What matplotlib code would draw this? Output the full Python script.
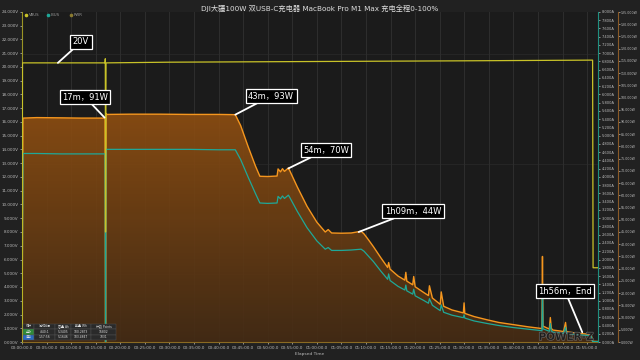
import matplotlib
matplotlib.use("Agg")
import matplotlib.pyplot as plt
import numpy as np
from matplotlib.ticker import FuncFormatter, MultipleLocator
from matplotlib.patches import Rectangle
import matplotlib.patheffects as pe

plt.rcParams['font.family'] = ['DejaVu Sans', 'Noto Sans CJK SC']

# ---------------- data ----------------
title = "DJI大疆100W 双USB-C充电器 MacBook Pro M1 Max 充电全程0-100%"

time_min = [0, 0.2, 3, 8, 12, 16.9, 17.0, 17.1, 17.2, 22, 28, 34, 40, 43.4,
            44.5, 46, 47.5, 48.4, 50, 51.9, 52.1, 52.6, 53.0, 53.4, 53.8, 54.2, 54.5,
            56, 58, 60, 61.7, 62.3, 63, 65, 67, 69, 69.6, 70.5, 71.5, 73,
            74.4, 74.6, 74.9, 76.5, 77.9, 78.1, 78.3, 79.5, 79.7, 80, 81.7,
            82.7, 82.9, 83.5, 85.1, 85.3, 85.8, 87.5, 89.8, 89.95, 90.1, 92,
            94.6, 97, 100, 103, 105.4, 105.8, 105.9, 106.0, 107.3, 107.5, 107.7,
            108, 110.2, 110.6, 110.8, 112.9, 115.8, 116.1, 117.2]
power_w = [0, 91.6, 91.8, 91.7, 91.6, 91.6, 0, 93.5, 93.1, 93.2, 93.2, 93.1, 93.1, 93.0,
           88.5, 80, 72, 67.8, 67.7, 67.9, 70.8, 69.6, 70.9, 69.8, 70.5, 71.2, 70.0,
           63.5, 55.5, 49, 45.0, 46.0, 44.6, 44.5, 44.6, 45.3, 44.2, 41.8, 39.0, 34.5,
           30.5, 32.5, 29.8, 27.0, 25.3, 28.5, 24.9, 23.4, 26.8, 22.6, 20.3,
           19.0, 23.0, 18.0, 15.4, 20.5, 14.6, 13.1, 11.9, 16.0, 11.7, 10.4,
           9.1, 8.0, 7.1, 6.2, 5.6, 5.5, 35.0, 6.5, 5.3, 10.0, 5.6,
           4.9, 4.3, 8.0, 4.2, 3.6, 3.1, 0.3, 0.2]
current_a = [0, 4.57, 4.57, 4.56, 4.56, 4.56, 0, 4.68, 4.67, 4.67, 4.67, 4.67, 4.66, 4.66,
             4.42, 4.0, 3.6, 3.37, 3.36, 3.37, 3.53, 3.47, 3.54, 3.48, 3.52, 3.56, 3.50,
             3.17, 2.77, 2.45, 2.25, 2.29, 2.22, 2.22, 2.23, 2.25, 2.20, 2.08, 1.95, 1.72,
             1.52, 1.65, 1.49, 1.35, 1.26, 1.38, 1.24, 1.16, 1.28, 1.12, 1.01,
             0.94, 1.05, 0.89, 0.76, 0.90, 0.72, 0.65, 0.59, 0.66, 0.58, 0.51,
             0.45, 0.40, 0.35, 0.31, 0.28, 0.27, 1.40, 0.32, 0.26, 0.45, 0.27,
             0.24, 0.21, 0.36, 0.21, 0.18, 0.15, 0.01, 0.01]

volt_time = [0, 0.1, 5, 16.9, 16.95, 17.0, 17.1, 30, 60, 90, 116.1, 116.2, 117.2]
volt_v = [0, 20.3, 20.3, 20.3, 20.6, 8.0, 20.3, 20.35, 20.4, 20.45, 20.5, 5.4, 5.4]

stats_header = ["统计", "测试时间", "容量 Ah", "能量 Wh", "计数 Points"]
stats_all = ["全部", "4:40:1", "5.3405", "100.2873", "16802"]
stats_sel = ["选中", "1:57:56", "5.1646", "103.4847", "7031"]

annotations = [
    ("20V", "V", 7.3, 20.3, 81, 318),
    ("17m，91W", "P", 16.8, 91.8, 85, 263),
    ("43m，93W", "P", 43.4, 93.0, 271, 264),
    ("54m，70W", "P", 54.2, 71.0, 326, 210),
    ("1h09m，44W", "P", 68.5, 45.0, 413, 149),
    ("1h56m，End", "P", 114.0, 4.0, 565, 69),
]

assert len(time_min) == len(power_w) == len(current_a)

# ---------------- figure ----------------
W, H = 640, 360
fig = plt.figure(figsize=(6.4, 3.6), dpi=100, facecolor='#212121')
rect = [22 / W, 1 - 342 / H, (598 - 22) / W, (342 - 12) / H]
ax3 = fig.add_axes(rect)          # power (background)
ax2 = ax3.twinx()                 # current
ax = ax3.twinx()                  # voltage (on top)

ax3.set_zorder(1); ax2.set_zorder(2); ax.set_zorder(3)
ax3.set_facecolor('#1b1b1b')
ax2.patch.set_visible(False); ax.patch.set_visible(False)

XMAX = 117.2
for a in (ax, ax2, ax3):
    a.set_xlim(0, XMAX)
ax.set_ylim(0, 24)
ax2.set_ylim(0, 8)
ax3.set_ylim(0, 135)

c_pwr = '#f5961e'
c_cur = '#1fa898'
c_volt = '#c8c228'

# gradient fill under power
poly = ax3.fill_between(time_min, power_w, 0, color='none', lw=0)
grad = np.linspace(0, 1, 256)
top = np.array([0.56, 0.31, 0.07]); bot = np.array([0.27, 0.17, 0.08])
cols = np.zeros((256, 1, 4))
cols[:, 0, :3] = bot + (top - bot) * grad[:, None]
cols[:, 0, 3] = 0.92
im = ax3.imshow(cols, extent=[0, XMAX, 0, 95], origin='lower', aspect='auto', zorder=1)
im.set_clip_path(poly.get_paths()[0], transform=ax3.transData)
ax3.set_ylim(0, 135); ax3.set_xlim(0, XMAX)

ax3.plot(time_min, power_w, color=c_pwr, lw=1.0, zorder=3)
ax2.plot(time_min, current_a, color=c_cur, lw=0.9, zorder=3)
ax.plot(volt_time, volt_v, color=c_volt, lw=0.9, zorder=3)

# grid
ax3.xaxis.set_major_locator(MultipleLocator(5))
ax3.grid(axis='x', color='#2e2e2e', lw=0.7)
ax3.set_axisbelow(True)
for pv in (118, 73, 28):
    ax3.axhline(pv, color='#272727', lw=0.6, zorder=0.5)

# x ticks
def fmt_time(m, pos):
    m = int(round(m))
    return f"{m // 60:02d}:{m % 60:02d}:00.0"
for a in (ax, ax2):
    a.tick_params(axis='x', bottom=False, labelbottom=False)
ax3.xaxis.set_major_formatter(FuncFormatter(fmt_time))
ax3.set_xticks(np.arange(0, 116, 5))
ax3.tick_params(axis='x', labelsize=3.0, colors='#bbbbbb', length=1.5, width=0.5, pad=1.2)

# left voltage axis
ax.yaxis.set_label_position('left')
ax.yaxis.tick_left()
ax.set_yticks(np.arange(0, 25, 1))
ax.yaxis.set_major_formatter(FuncFormatter(lambda v, p: f"{v:.3f}V"))
ax.tick_params(axis='y', labelsize=3.0, colors='#bbbbbb', length=1.5, width=0.5, pad=1)
ax3.tick_params(axis='y', left=False, labelleft=False)

# right current axis
ax2.set_yticks(np.arange(0, 8.01, 0.2))
ax2.yaxis.set_major_formatter(FuncFormatter(lambda v, p: f"{v:.3f}A"))
ax2.tick_params(axis='y', labelsize=2.6, colors='#bbbbbb', length=1.5, width=0.5, pad=1)

# right power axis (offset)
ax3.yaxis.set_label_position('right')
ax3.yaxis.tick_right()
ax3.spines['right'].set_position(('outward', 20 * 72 / 100))
ax3.set_yticks(np.arange(0, 136, 5))
ax3.yaxis.set_major_formatter(FuncFormatter(lambda v, p: f"{v:.3f}W"))
ax3.tick_params(axis='y', right=True, labelright=True, labelsize=2.35, colors='#bbbbbb',
                length=1.2, width=0.5, pad=0.8)

for a in (ax, ax2, ax3):
    for s in a.spines.values():
        s.set_visible(False)
ax.spines['left'].set_visible(True); ax.spines['left'].set_color('#9a9424'); ax.spines['left'].set_linewidth(0.8)
ax2.spines['right'].set_visible(True); ax2.spines['right'].set_color('#1f8f80'); ax2.spines['right'].set_linewidth(0.8)
ax3.spines['right'].set_visible(True); ax3.spines['right'].set_color('#8a5a28'); ax3.spines['right'].set_linewidth(0.8)
ax3.spines['bottom'].set_visible(True); ax3.spines['bottom'].set_color('#8a6a22'); ax3.spines['bottom'].set_linewidth(0.8)

# title & labels
fig.text(320 / W, 1 - 8 / H, title, ha='center', va='center', fontsize=5.2, color='#dddddd')
fig.text(310 / W, 1 - 354 / H, "Elapsed Time", ha='center', va='center', fontsize=3.2, color='#bbbbbb')

# legend
for x0, col, lab in [(26, c_volt, "VBUS"), (48, c_cur, "IBUS"), (71, '#8a7a30', "PWR")]:
    fig.add_artist(plt.Line2D([x0 / W], [1 - 14.5 / H], marker='o', ms=1.6, color=col,
                              transform=fig.transFigure, lw=0))
    fig.text((x0 + 3) / W, 1 - 14.5 / H, lab, fontsize=2.8, color='#9a9a9a', va='center', ha='left')

# stats table
col_x = [23, 34, 55, 71, 91, 116]
row_y = [323.5, 329, 334.5, 340]
rows = [stats_header, stats_all, stats_sel]
for r, row in enumerate(rows):
    for c, txt in enumerate(row):
        x0, x1 = col_x[c], col_x[c + 1]
        y0, y1 = row_y[r], row_y[r + 1]
        fc = '#2a2a2a'
        if c == 0 and r == 1:
            fc = '#2e8b3a'
        elif c == 0 and r == 2:
            fc = '#2a6ac0'
        fig.add_artist(Rectangle((x0 / W, 1 - y1 / H), (x1 - x0) / W, (y1 - y0) / H,
                                 transform=fig.transFigure, fc=fc, ec='#555555', lw=0.3, zorder=10))
        fig.text((x0 + x1) / 2 / W, 1 - (y0 + y1) / 2 / H, txt, fontsize=2.2, color='#dddddd',
                 ha='center', va='center', zorder=11)

# watermark
fig.text(566 / W, 1 - 337 / H, "POWER-Z", fontsize=7.5, fontweight='bold', color='#1b1b1b',
         ha='center', va='center', alpha=0.8,
         path_effects=[pe.withStroke(linewidth=0.8, foreground='#7a7a7a')], zorder=12)

# annotations
for txt, which, xv, yv, tx, ty in annotations:
    tr = ax.transData if which == "V" else ax3.transData
    ax.annotate(txt, xy=(xv, yv), xycoords=tr, xytext=(tx, ty), textcoords='figure pixels',
                ha='center', va='center', fontsize=6, color='white',
                bbox=dict(boxstyle='square,pad=0.3', fc='black', ec='white', lw=0.9),
                arrowprops=dict(arrowstyle='-', color='white', lw=1.3, shrinkA=0, shrinkB=0),
                zorder=20)

fig.savefig("out.png", dpi=100, facecolor=fig.get_facecolor())
